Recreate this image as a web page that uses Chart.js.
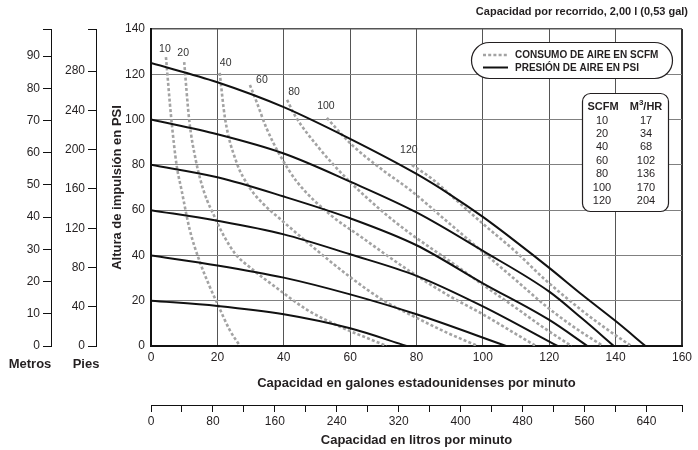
<!DOCTYPE html>
<html>
<head>
<meta charset="utf-8">
<script src="https://cdn.jsdelivr.net/npm/chart.js@4.4.1/dist/chart.umd.min.js"></script>
<style>
  html, body { margin: 0; padding: 0; background: #fff; }
  #wrap { width: 698px; height: 450px; }
</style>
</head>
<body>
<div id="wrap"><canvas id="pumpChart" width="698" height="450"></canvas></div>
<script>
// Pressure curves (black): capacity in US gpm vs discharge head in psi
const psi120Gpm = [0, 20, 40, 60, 80, 90, 100, 110, 120, 130, 140, 149];
const psi120Head = [125, 116.5, 105.5, 91.5, 76, 67, 57, 46, 34.5, 22.5, 11, 0];
const psi100Gpm = [0, 20, 40, 60, 80, 100, 120, 130, 139.5];
const psi100Head = [100, 93.5, 85, 72.6, 59, 42, 24, 12, 0];
const psi80Gpm = [0, 20, 40, 60, 80, 100, 120, 131.5];
const psi80Head = [80, 74.5, 66, 56.4, 44.5, 27.7, 11.5, 0];
const psi60Gpm = [0, 20, 40, 60, 80, 100, 122.5];
const psi60Head = [60, 55.3, 49.3, 40.5, 31, 17.5, 0];
const psi40Gpm = [0, 20, 40, 60, 80, 107];
const psi40Head = [40, 35.6, 30.2, 22.8, 14, 0];
const psi20Gpm = [0, 20, 40, 60, 77];
const psi20Head = [20, 17.7, 14, 7.8, 0];

// Air consumption curves (grey dashed)
const scfm10Gpm = [4.5, 6.1, 7.7, 9.2, 11.7, 14.7, 17.7, 20.2, 23.7, 26.8];
const scfm10Head = [127.6, 100.6, 80, 68.9, 51.2, 37.2, 26.2, 18.1, 7.1, 0];
const scfm20Gpm = [10, 11.5, 13.5, 16, 19.5, 22, 25.5, 30, 38, 47, 57, 66, 71];
const scfm20Head = [125.4, 100, 82, 68, 56, 48.5, 40.5, 34.5, 25.5, 16, 8.5, 3, 0];
const scfm40Gpm = [20.7, 22.3, 25.7, 29.7, 34, 39, 47.4, 60.4, 70.4, 79, 89, 98.5];
const scfm40Head = [120.6, 100.6, 81.4, 70, 62.5, 56, 45.4, 30, 19.8, 13.2, 6, 0];
const scfm60Gpm = [29.8, 31.8, 34.8, 38.8, 44, 54, 63, 78, 90, 100, 108, 116];
const scfm60Head = [115.3, 107.9, 96.2, 84.4, 72.5, 58, 48.5, 33, 22, 14, 7, 0];
const scfm80Gpm = [41, 43.3, 50.3, 59.4, 70.4, 78, 90, 100, 110, 118.6, 126.7];
const scfm80Head = [108.7, 102, 88, 73.3, 58.6, 49.8, 37.5, 27, 16.8, 7.8, 0];
const scfm100Gpm = [53, 60.4, 70, 78, 90, 100, 110, 118.6, 127, 136.2];
const scfm100Head = [100.7, 89, 77.5, 69, 54, 41.5, 29, 18.1, 8.8, 0];
const scfm120Gpm = [78.6, 85, 90, 100, 110, 118.6, 130, 137, 144.7];
const scfm120Head = [80, 73.5, 67, 54, 41.5, 29.5, 15.5, 7.8, 0];

const scfmRates = ['10', '20', '40', '60', '80', '100', '120'];
const m3hRates = ['17', '34', '68', '102', '136', '170', '204'];

// Tick labels
const gpmTicks = [0, 20, 40, 60, 80, 100, 120, 140, 160];
const psiTicks = [0, 20, 40, 60, 80, 100, 120, 140];
const metrosTicks = [0, 10, 20, 30, 40, 50, 60, 70, 80, 90];
const piesTicks = [0, 40, 80, 120, 160, 200, 240, 280];
const litrosTicks = [0, 40, 80, 120, 160, 200, 240, 280, 320, 360, 400, 440, 480, 520, 560, 600, 640];

const chartTitle = 'Capacidad por recorrido, 2,00 l (0,53 gal)';
const maxPsi = 140;
const maxGpm = 160;
const maxMetros = maxPsi * 0.70307;
const maxPies = maxPsi * 2.3067;
const maxLitros = 686;

const FAMILY = '"Liberation Sans", Arial, sans-serif';
const SZ = { tick: 12, title: 13, head: 11, legend: 10, table: 11, curve: 10.5 };
const LH = s => s * 1.2;
const INK = '#231f20';

Chart.defaults.font.family = FAMILY;
Chart.defaults.color = INK;

function toPoints(xs, ys) {
  return xs.map((v, i) => ({ x: v, y: ys[i] }));
}

const pressureCurves = [
  [psi120Gpm, psi120Head], [psi100Gpm, psi100Head], [psi80Gpm, psi80Head],
  [psi60Gpm, psi60Head], [psi40Gpm, psi40Head], [psi20Gpm, psi20Head]
];
const scfmCurves = [
  [scfm10Gpm, scfm10Head], [scfm20Gpm, scfm20Head], [scfm40Gpm, scfm40Head],
  [scfm60Gpm, scfm60Head], [scfm80Gpm, scfm80Head], [scfm100Gpm, scfm100Head],
  [scfm120Gpm, scfm120Head]
];

const datasets = [];
pressureCurves.forEach(([xs, ys]) => {
  datasets.push({
    data: toPoints(xs, ys),
    borderColor: '#111',
    borderWidth: 2,
    pointRadius: 0,
    fill: false,
    cubicInterpolationMode: 'monotone',
    order: 0
  });
});
scfmCurves.forEach(([xs, ys]) => {
  datasets.push({
    data: toPoints(xs, ys),
    borderColor: '#a3a3a3',
    borderWidth: 2.6,
    borderDash: [3, 2.2],
    pointRadius: 0,
    fill: false,
    cubicInterpolationMode: 'monotone',
    order: 1
  });
});

// label nudges (px) from each dashed curve's first point
const labelShift = [[-1, -8], [-1, -9], [6, -10], [12, -5], [7, -8], [-1, -12], [-3, -15]];

function roundedBox(ctx, x, y, w, h, r) {
  ctx.beginPath();
  ctx.moveTo(x + r, y);
  ctx.lineTo(x + w - r, y);
  ctx.arcTo(x + w, y, x + w, y + r, r);
  ctx.lineTo(x + w, y + h - r);
  ctx.arcTo(x + w, y + h, x + w - r, y + h, r);
  ctx.lineTo(x + r, y + h);
  ctx.arcTo(x, y + h, x, y + h - r, r);
  ctx.lineTo(x, y + r);
  ctx.arcTo(x, y, x + r, y, r);
  ctx.closePath();
}

const annotations = {
  id: 'pumpAnnotations',
  afterDraw(chart) {
    const ctx = chart.ctx;
    const xs = chart.scales.x;
    const ys = chart.scales.y;
    ctx.save();
    ctx.fillStyle = INK;

    // top title
    ctx.font = `bold ${SZ.head}px ${FAMILY}`;
    ctx.textAlign = 'right';
    ctx.textBaseline = 'middle';
    ctx.fillText(chartTitle, 688, 12);

    // unit names under the auxiliary axes
    ctx.textAlign = 'center';
    ctx.font = `bold ${SZ.title}px ${FAMILY}`;
    ctx.fillText('Metros', 30, 364);
    ctx.fillText('Pies', 86, 364);

    // SCFM values on the dashed curves
    ctx.font = `${SZ.curve}px ${FAMILY}`;
    ctx.fillStyle = '#333';
    scfmCurves.forEach(([cx, cy], i) => {
      const px = xs.getPixelForValue(cx[0]) + labelShift[i][0];
      const py = ys.getPixelForValue(cy[0]) + labelShift[i][1];
      ctx.fillText(scfmRates[i], px, py);
    });

    // legend pill
    roundedBox(ctx, 471.5, 42.5, 201, 36, 18);
    ctx.fillStyle = '#fff';
    ctx.fill();
    ctx.lineWidth = 1.2;
    ctx.strokeStyle = INK;
    ctx.stroke();

    ctx.beginPath();
    ctx.setLineDash([3, 2.2]);
    ctx.strokeStyle = '#a3a3a3';
    ctx.lineWidth = 2.6;
    ctx.moveTo(483, 55);
    ctx.lineTo(508, 55);
    ctx.stroke();
    ctx.setLineDash([]);
    ctx.beginPath();
    ctx.strokeStyle = '#111';
    ctx.lineWidth = 2;
    ctx.moveTo(483, 67.5);
    ctx.lineTo(508, 67.5);
    ctx.stroke();

    ctx.fillStyle = INK;
    ctx.textAlign = 'left';
    ctx.font = `bold ${SZ.legend}px ${FAMILY}`;
    ctx.fillText('CONSUMO DE AIRE EN SCFM', 515, 55.5);
    ctx.fillText('PRESIÓN DE AIRE EN PSI', 515, 68);

    // conversion table
    roundedBox(ctx, 582.5, 93.5, 86, 118, 8);
    ctx.fillStyle = '#fff';
    ctx.fill();
    ctx.lineWidth = 1.2;
    ctx.strokeStyle = INK;
    ctx.stroke();

    ctx.fillStyle = INK;
    ctx.textAlign = 'center';
    ctx.font = `bold ${SZ.table}px ${FAMILY}`;
    ctx.fillText('SCFM', 603, 107);
    // M3/HR with a raised 3
    const big = `bold ${SZ.table}px ${FAMILY}`;
    const small = `bold ${Math.round(SZ.table * 0.7)}px ${FAMILY}`;
    ctx.font = big;
    const wM = ctx.measureText('M').width;
    const wR = ctx.measureText('/HR').width;
    ctx.font = small;
    const w3 = ctx.measureText('3').width;
    const hx = 646 - (wM + w3 + wR) / 2;
    ctx.textAlign = 'left';
    ctx.font = big;
    ctx.fillText('M', hx, 107);
    ctx.font = small;
    ctx.fillText('3', hx + wM, 103);
    ctx.font = big;
    ctx.fillText('/HR', hx + wM + w3, 107);

    ctx.textAlign = 'center';
    ctx.font = `${SZ.table}px ${FAMILY}`;
    scfmRates.forEach((s, i) => {
      const ty = 120.5 + i * 13.4;
      ctx.fillText(s, 602, ty);
      ctx.fillText(m3hRates[i], 646, ty);
    });

    ctx.restore();
  }
};

const ctx = document.getElementById('pumpChart').getContext('2d');
new Chart(ctx, {
  type: 'line',
  data: { datasets },
  plugins: [annotations],
  options: {
    responsive: false,
    devicePixelRatio: 1,
    animation: false,
    layout: { padding: { top: 29, right: 16, bottom: 0, left: 0 } },
    plugins: { legend: { display: false }, tooltip: { enabled: false } },
    scales: {
      x: {
        type: 'linear',
        position: 'bottom',
        weight: 0,
        min: 0,
        max: maxGpm,
        afterBuildTicks: s => { s.ticks = gpmTicks.map(v => ({ value: v })); },
        afterFit: s => { s.height = 59; },
        ticks: { autoSkip: false, maxRotation: 0, padding: 12 - LH(SZ.tick) / 2, font: { size: SZ.tick } },
        grid: {
          drawTicks: false,
          color: c => (c.tick && c.tick.value === maxGpm ? '#333' : '#555'),
          lineWidth: c => (c.tick && c.tick.value === maxGpm ? 2 : 1)
        },
        border: { color: '#111', width: 2 },
        title: {
          display: true,
          text: 'Capacidad en galones estadounidenses por minuto',
          font: { size: SZ.title, weight: 'bold' },
          padding: { top: 0, bottom: 22 - LH(SZ.title) / 2 }
        }
      },
      litros: {
        type: 'linear',
        position: 'bottom',
        weight: 1,
        min: 0,
        max: maxLitros,
        afterBuildTicks: s => { s.ticks = litrosTicks.concat([maxLitros]).map(v => ({ value: v })); },
        afterFit: s => { s.height = 45; },
        ticks: {
          autoSkip: false,
          maxRotation: 0,
          padding: 10 - LH(SZ.tick) / 2,
          font: { size: SZ.tick },
          callback: v => (v % 80 === 0 && v <= 640 ? String(v) : '')
        },
        grid: { drawOnChartArea: false, tickLength: 7, color: '#111', lineWidth: 1 },
        border: { color: '#111', width: 1 },
        title: {
          display: true,
          text: 'Capacidad en litros por minuto',
          font: { size: SZ.title, weight: 'bold' },
          padding: { top: 0, bottom: 10 - LH(SZ.title) / 2 }
        }
      },
      y: {
        type: 'linear',
        position: 'left',
        weight: 0,
        min: 0,
        max: maxPsi,
        afterBuildTicks: s => { s.ticks = psiTicks.map(v => ({ value: v })); },
        afterFit: s => { s.width = 55; },
        ticks: { autoSkip: false, padding: 6, font: { size: SZ.tick } },
        grid: {
          drawTicks: false,
          color: c => (c.tick && c.tick.value === maxPsi ? '#555' : '#808080'),
          lineWidth: c => (c.tick && c.tick.value === maxPsi ? 1.5 : 1)
        },
        border: { color: '#111', width: 2 },
        title: {
          display: true,
          text: 'Altura de impulsión en PSI',
          font: { size: SZ.title, weight: 'bold' },
          padding: { top: 21 - LH(SZ.title) / 2, bottom: 0 }
        }
      },
      pies: {
        type: 'linear',
        position: 'left',
        weight: 1,
        min: 0,
        max: maxPies,
        afterBuildTicks: s => { s.ticks = piesTicks.concat([maxPies]).map(v => ({ value: v })); },
        afterFit: s => { s.width = 45; },
        ticks: {
          autoSkip: false,
          padding: 3,
          font: { size: SZ.tick },
          callback: v => (v <= 280 ? String(v) : '')
        },
        grid: { drawOnChartArea: false, tickLength: 8, color: '#111', lineWidth: 1 },
        border: { color: '#111', width: 1 }
      },
      metros: {
        type: 'linear',
        position: 'left',
        weight: 2,
        min: 0,
        max: maxMetros,
        afterBuildTicks: s => { s.ticks = metrosTicks.concat([maxMetros]).map(v => ({ value: v })); },
        afterFit: s => { s.width = 51; },
        ticks: {
          autoSkip: false,
          padding: 3,
          font: { size: SZ.tick },
          callback: v => (v <= 90 ? String(v) : '')
        },
        grid: { drawOnChartArea: false, tickLength: 8, color: '#111', lineWidth: 1 },
        border: { color: '#111', width: 1 }
      }
    }
  }
});
</script>
</body>
</html>
